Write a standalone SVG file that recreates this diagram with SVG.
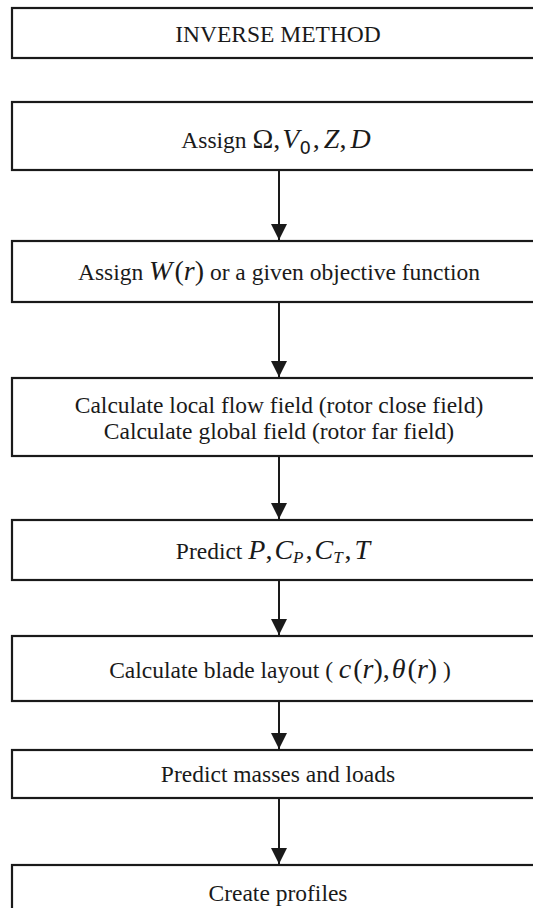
<svg xmlns="http://www.w3.org/2000/svg" width="533" height="908" viewBox="0 0 533 908">
<defs>
<style>
.box{fill:#fff;stroke:#1a1a1a;stroke-width:2.2}
.t{font-family:"Liberation Serif","Times New Roman",serif;font-size:23.5px;fill:#1a1a1a;text-anchor:middle}
.m{font-size:28px}
.i{font-style:italic}
.sub{font-family:"DejaVu Sans","Liberation Sans",sans-serif;font-size:18px}
.sub2{font-size:17px;font-style:italic}
.conn line{stroke:#1a1a1a;stroke-width:2}
</style>
<marker id="ah" viewBox="0 0 16 16" refX="16" refY="8" markerWidth="16" markerHeight="16" markerUnits="userSpaceOnUse" orient="auto">
<path d="M0,0 L16,8 L0,16 Z" fill="#1a1a1a"/>
</marker>
</defs>
<rect width="533" height="908" fill="#fff"/>
<g id="n1"><rect class="box" x="12" y="8" width="540" height="50"/><text class="t" x="278" y="42">INVERSE METHOD</text></g>
<g id="n2"><rect class="box" x="12" y="102" width="540" height="68"/><text class="t" x="276" y="148">Assign <tspan class="m">Ω,</tspan><tspan class="m i" dx="2">V</tspan><tspan class="sub" dy="6">0</tspan><tspan class="m" dy="-6" dx="2">,</tspan><tspan class="m i" dx="4">Z</tspan><tspan class="m">,</tspan><tspan class="m i" dx="4">D</tspan></text></g>
<g id="n3"><rect class="box" x="12" y="241" width="540" height="61"/><text class="t" x="279" y="280">Assign <tspan class="m i">W</tspan><tspan class="m" dx="2">(</tspan><tspan class="m i">r</tspan><tspan class="m">)</tspan> or a given objective function</text></g>
<g id="n4"><rect class="box" x="12" y="378" width="540" height="78"/><text class="t" x="279" y="413">Calculate local flow field (rotor close field)</text><text class="t" x="279" y="439">Calculate global field (rotor far field)</text></g>
<g id="n5"><rect class="box" x="12" y="520" width="540" height="60"/><text class="t" x="273" y="559">Predict  <tspan class="m i">P</tspan><tspan class="m">,</tspan><tspan class="m i" dx="2">C</tspan><tspan class="sub2" dy="4">P</tspan><tspan class="m" dy="-4" dx="2">,</tspan><tspan class="m i" dx="2">C</tspan><tspan class="sub2" dy="4">T</tspan><tspan class="m" dy="-4" dx="2">,</tspan><tspan class="m i" dx="3">T</tspan></text></g>
<g id="n6"><rect class="box" x="12" y="636" width="540" height="65"/><text class="t" x="280" y="678">Calculate blade layout ( <tspan class="m i">c</tspan><tspan class="m" dx="2">(</tspan><tspan class="m i">r</tspan><tspan class="m">),</tspan><tspan class="m i" dx="2">θ</tspan><tspan class="m" dx="2">(</tspan><tspan class="m i">r</tspan><tspan class="m">)</tspan> )</text></g>
<g id="n7"><rect class="box" x="12" y="750" width="540" height="48"/><text class="t" x="278" y="782">Predict masses and loads</text></g>
<g id="n8"><rect class="box" x="12" y="865" width="540" height="60"/><text class="t" x="278" y="901">Create profiles</text></g>
<g class="conn">
<line x1="279" y1="170" x2="279" y2="240" marker-end="url(#ah)"/>
<line x1="279" y1="302" x2="279" y2="377" marker-end="url(#ah)"/>
<line x1="279" y1="456" x2="279" y2="519" marker-end="url(#ah)"/>
<line x1="279" y1="580" x2="279" y2="635" marker-end="url(#ah)"/>
<line x1="279" y1="701" x2="279" y2="749" marker-end="url(#ah)"/>
<line x1="279" y1="798" x2="279" y2="864" marker-end="url(#ah)"/>
</g>
</svg>
